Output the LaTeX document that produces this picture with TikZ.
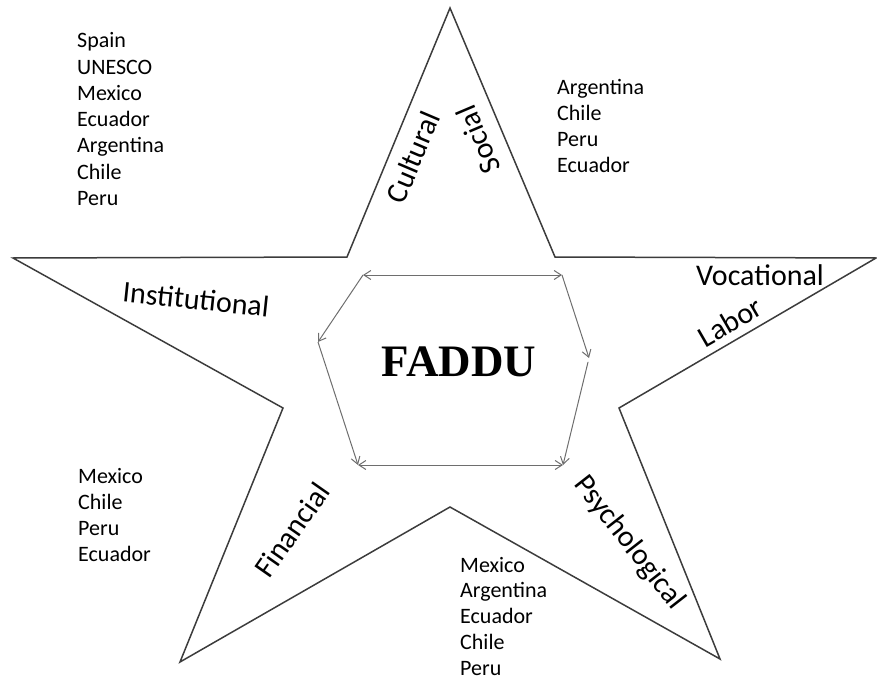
\documentclass[tikz,border=0pt]{standalone}
\usepackage{fontspec}
\setmainfont{Carlito}
\newfontfamily\titlefont{Liberation Serif}
\usetikzlibrary{arrows.meta}
\definecolor{edgegray}{RGB}{60,60,60}
\definecolor{arrowgray}{RGB}{110,110,110}

\begin{document}
\begin{tikzpicture}[x=1pt, y=-1pt,
  staredge/.style={draw=edgegray, line width=1.5pt, line join=miter},
  arrowline/.style={draw=arrowgray, line width=1pt, -{Straight Barb[length=7pt,width=9pt]}},
  twoway/.style={arrowline, {Straight Barb[length=7pt,width=9pt]}-{Straight Barb[length=7pt,width=9pt]}},
  dimension/.style={font=\fontsize{30}{34}\selectfont, inner sep=0pt},
  country/.style={anchor=base west, font=\fontsize{22}{26}\selectfont, inner sep=0pt}]
\useasboundingbox (0,0) rectangle (877,679);

% Star outline
\coordinate (sTop) at (450,8);
\coordinate (sTR) at (555,257);
\coordinate (sRight) at (876,258);
\coordinate (sR) at (619,408);
\coordinate (sBR) at (720,659);
\coordinate (sB) at (450,507);
\coordinate (sBL) at (180,662);
\coordinate (sL) at (283,408);
\coordinate (sLeft) at (13,258);
\coordinate (sTL) at (347,257);
\draw[staredge] (sTop) -- (sTR) -- (sRight) -- (sR) -- (sBR) -- (sB)
  -- (sBL) -- (sL) -- (sLeft) -- (sTL) -- cycle;

% Centre
\node[font=\titlefont\bfseries\fontsize{45}{50}\selectfont] (faddu) at (459,362) {FADDU};

% Hexagon arrows
\coordinate (hTL) at (363,275);
\coordinate (hTR) at (562,275);
\coordinate (hR) at (589,358);
\coordinate (hBR) at (563,465);
\coordinate (hBL) at (358,465);
\coordinate (hL) at (318,342);
\draw[twoway] (hTL) -- (hTR);
\draw[arrowline] (hTL) -- (hL);
\draw[arrowline] (hL) -- (hBL);
\draw[arrowline] (hTR) -- (hR);
\draw[arrowline, shorten <=4pt] (hR) -- (hBR);
\draw[twoway] (hBL) -- (hBR);

% Dimensions
\node[dimension, rotate=67] (cultural) at (413,157) {Cultural};
\node[dimension, rotate=113] (social) at (478,140) {Social};
\node[dimension, rotate=-6] (inst) at (196,299) {Institutional};
\node[dimension] (voc) at (760,275) {Vocational};
\node[dimension, rotate=30] (labor) at (730,322) {Labor};
\node[dimension, rotate=55] (fin) at (292,530) {Financial};
\node[dimension, rotate=-52] (psy) at (629,543) {Psychological};

% Countries
\foreach \c [count=\i from 0] in {Spain,UNESCO,Mexico,Ecuador,Argentina,Chile,Peru}
  \node[country] (nw\i) at (77,48+26.2*\i) {\c};
\foreach \c [count=\i from 0] in {Argentina,Chile,Peru,Ecuador}
  \node[country] (ne\i) at (557,95+25.7*\i) {\c};
\foreach \c [count=\i from 0] in {Mexico,Chile,Peru,Ecuador}
  \node[country] (sw\i) at (78,483+26.3*\i) {\c};
\foreach \c [count=\i from 0] in {Mexico,Argentina,Ecuador,Chile,Peru}
  \node[country] (s\i) at (460,572+25.8*\i) {\c};
\end{tikzpicture}
\end{document}
